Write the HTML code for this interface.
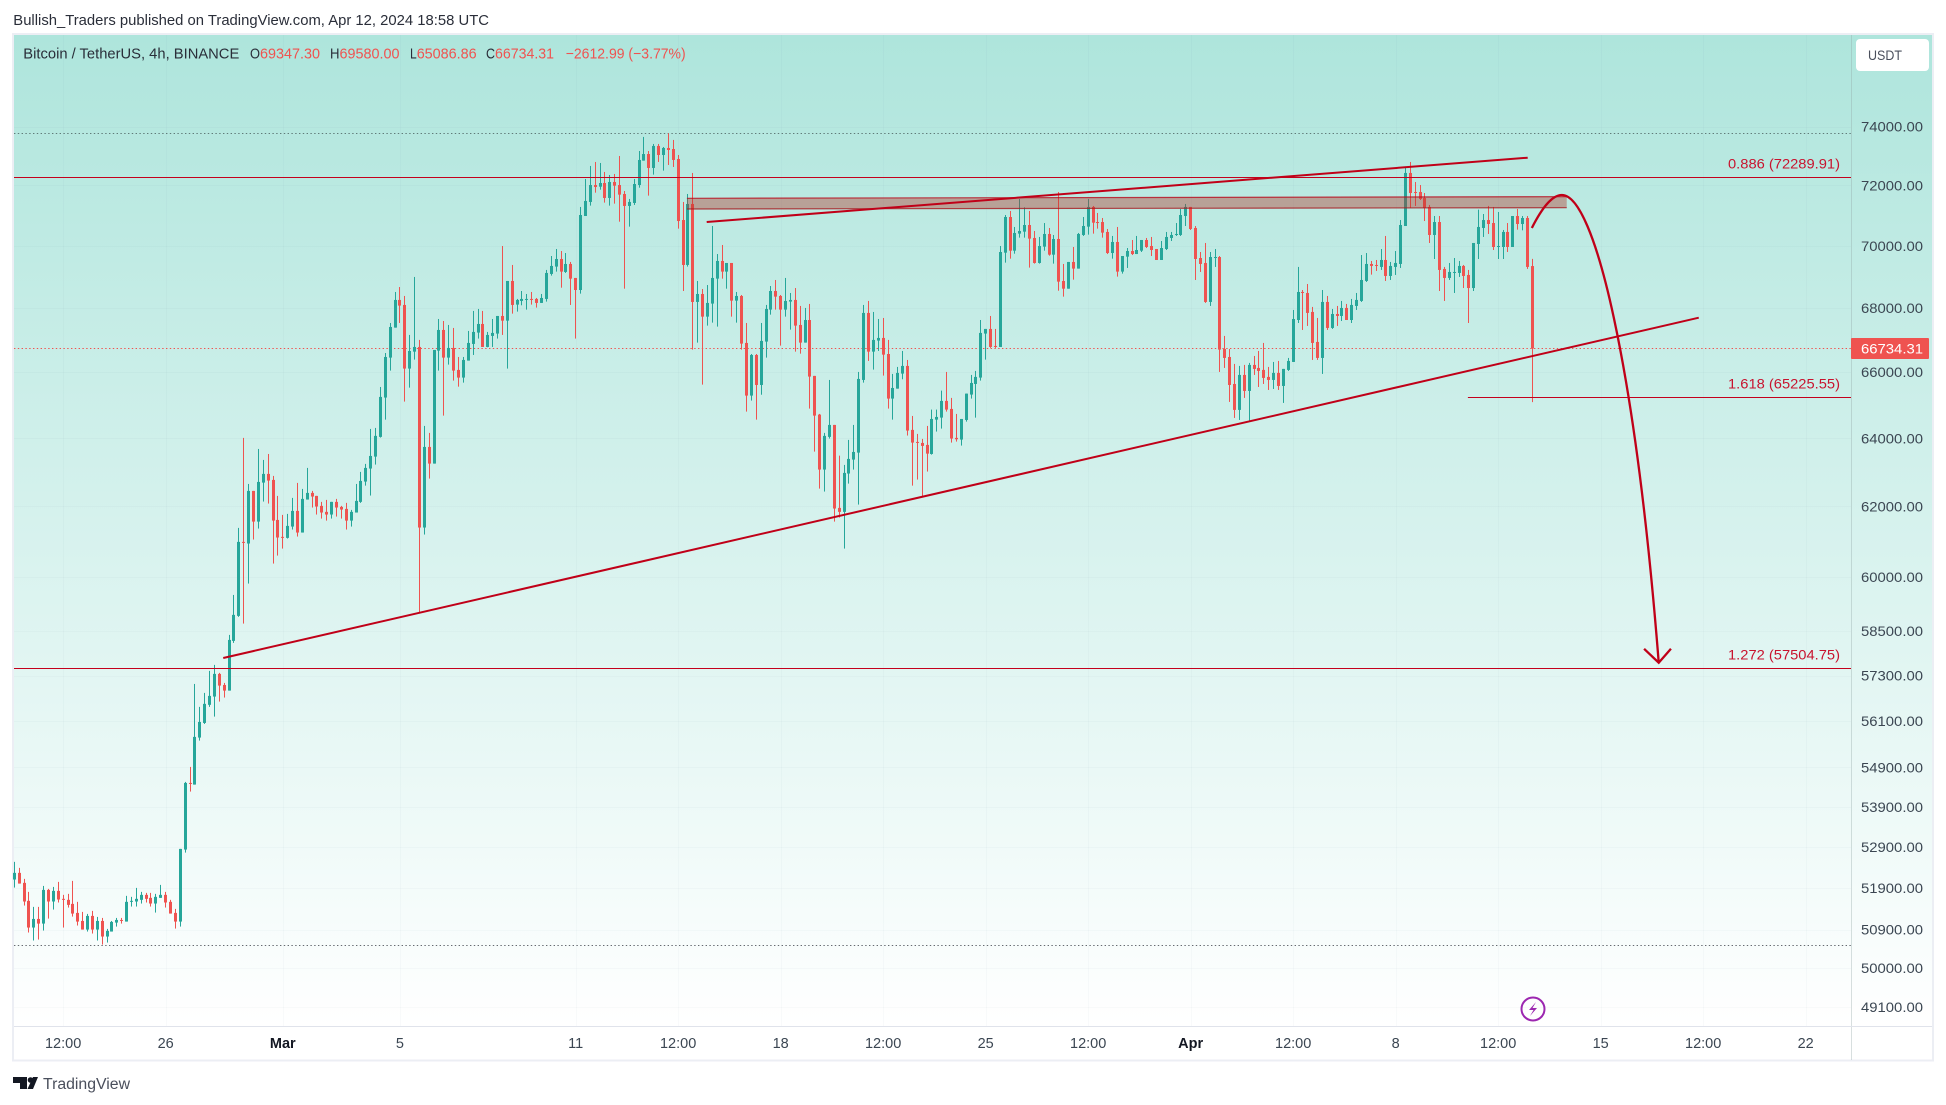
<!DOCTYPE html>
<html lang="en">
<head>
<meta charset="utf-8">
<title>Bitcoin / TetherUS 4h chart</title>
<style>
html,body{margin:0;padding:0;background:#fff;width:1946px;height:1105px;overflow:hidden}
svg{display:block}
text{font-family:"Liberation Sans",sans-serif}
</style>
</head>
<body>
<svg id="chart" xmlns="http://www.w3.org/2000/svg" width="1946" height="1105" viewBox="0 0 1946 1105">
  <defs>
    <linearGradient id="bg" x1="0" y1="0" x2="0" y2="1">
      <stop offset="0" stop-color="#aee5dc"/>
      <stop offset="1" stop-color="#ffffff"/>
    </linearGradient>
  </defs>
  <rect x="0" y="0" width="1946" height="1105" fill="#ffffff"/>
  <text x="13.3" y="25" font-size="15" fill="#2a2e39" textLength="475.7" lengthAdjust="spacingAndGlyphs">Bullish_Traders published on TradingView.com, Apr 12, 2024 18:58 UTC</text>
  <rect x="13" y="34" width="1920" height="1026.5" fill="#ffffff" stroke="#eceef4" stroke-width="2"/>
  <rect x="14" y="35" width="1918" height="991" fill="url(#bg)"/>
  <g id="grid"></g>
  <line x1="1851.5" y1="35" x2="1851.5" y2="1060" stroke="#8fa3a3" stroke-opacity="0.35" stroke-width="1"/>
  <line x1="14" y1="1026.5" x2="1932" y2="1026.5" stroke="#e0e3eb" stroke-width="1"/>
  <g id="levels"></g>
  <g id="candles"></g>
  <g id="drawings"></g>
  <g id="yaxis"></g>
  <g id="xaxis"></g>

  <g font-size="15" fill="#2a2e39">
    <text x="23.3" y="58.5" textLength="216" lengthAdjust="spacingAndGlyphs">Bitcoin / TetherUS, 4h, BINANCE</text>
    <text x="250" y="58.5" textLength="10" lengthAdjust="spacingAndGlyphs">O</text>
    <text x="260" y="58.5" fill="#ef5350" textLength="60" lengthAdjust="spacingAndGlyphs">69347.30</text>
    <text x="330" y="58.5" textLength="9.5" lengthAdjust="spacingAndGlyphs">H</text>
    <text x="339.5" y="58.5" fill="#ef5350" textLength="60" lengthAdjust="spacingAndGlyphs">69580.00</text>
    <text x="410" y="58.5" textLength="6.7" lengthAdjust="spacingAndGlyphs">L</text>
    <text x="416.7" y="58.5" fill="#ef5350" textLength="60" lengthAdjust="spacingAndGlyphs">65086.86</text>
    <text x="486" y="58.5" textLength="9" lengthAdjust="spacingAndGlyphs">C</text>
    <text x="495" y="58.5" fill="#ef5350" textLength="59" lengthAdjust="spacingAndGlyphs">66734.31</text>
    <text x="565.7" y="58.5" fill="#ef5350" textLength="120" lengthAdjust="spacingAndGlyphs">−2612.99 (−3.77%)</text>
  </g>

  <g>
    <rect x="1856" y="39" width="73" height="32" rx="4" fill="#ffffff"/>
    <text x="1868" y="60" font-size="14" fill="#4a4f5c" textLength="34" lengthAdjust="spacingAndGlyphs">USDT</text>
  </g>

  <g>
    <circle cx="1533" cy="1009" r="11.5" fill="none" stroke="#9c27b0" stroke-width="2"/>
    <path d="M1536 1002 L1529 1010 L1533.5 1010 L1530 1016 L1537 1008 L1532.5 1008 Z" fill="#9c27b0"/>
  </g>

  <g>
    <path d="M13 1077 H27 V1089 H20 V1083 H13 Z" fill="#131722"/>
    <circle cx="30.5" cy="1080" r="2.8" fill="#131722"/>
    <path d="M33 1077 H38 L33 1089 H27.5 Z" fill="#131722"/>
    <text x="43" y="1089" font-size="15.5" fill="#4a4f5c" textLength="87" lengthAdjust="spacingAndGlyphs">TradingView</text>
  </g>
</svg>
<script>
const opens=[
52105,52267,52024,51590,50952,51157,51046,51854,51574,51830,
51638,51614,51517,51301,51109,50904,51229,50904,51109,50739,
50857,51070,51133,51094,51574,51574,51614,51734,51662,51525,
51662,51734,51566,51301,51094,52838,54504,54462,55668,56049,
56524,56742,57345,57050,56900,58233,58916,60983,60936,62449,
61562,62691,62946,62770,61610,61126,61097,61420,61870,61249,
62198,62391,62304,62015,61842,61765,62131,61986,61928,61591,
61823,62131,62721,63103,63455,64041,65225,66451,67386,68261,
68102,66112,66636,66782,61392,63742,63249,66667,67313,66451,
66751,66071,65835,66359,66876,67230,67501,66782,67126,67199,
67753,67605,68867,68113,68229,68271,68293,68293,68166,68293,
69093,69330,69576,69157,69415,68964,68578,70984,71450,72016,
71960,72084,71583,72118,72016,71716,71317,71416,72016,72839,
73064,72591,73339,73031,73270,73235,72895,70851,69383,71383,
68197,68451,67732,68145,68942,69512,69168,69447,68239,68388,
66907,65285,66533,65609,66949,67954,68546,68388,67954,68208,
68261,67470,66917,67626,65887,64710,63073,64041,64399,61957,
61842,62956,63367,63573,65763,67849,66636,66980,67063,66563,
65194,65497,65958,66194,64250,63891,63861,63802,63533,64558,
64619,65124,64881,64011,63961,64548,65316,65640,65835,67199,
67345,66813,66782,69781,70951,69846,70403,70468,70687,70261,
69447,69977,70392,69716,70228,68867,68620,69480,69265,70359,
70633,71284,70785,70785,70458,69770,70130,69168,69652,69835,
69737,69846,70195,69999,69901,69544,69901,70261,70359,70359,
70984,71284,70589,69608,69447,68197,69619,69640,66720,66471,
65640,64851,65917,65427,66225,66132,66071,65856,65763,65979,
65579,66071,66317,67626,68515,68483,67880,66938,66441,68197,
67376,67816,67753,68007,67626,68070,68229,68867,69415,69383,
69319,69544,69028,69319,69415,70654,72422,71783,71783,71583,
71284,70359,70785,69254,68964,69125,69125,69351,69060,68641,
70064,70589,70851,70752,69966,69966,70458,69966,70984,70720,
70918,69347.30];
const highs=[
52536,52389,52121,51806,51445,51445,51950,51878,51926,52048,
51734,51758,52072,51566,51325,51277,51349,51205,51181,50920,
51109,51181,51181,51710,51686,51902,51806,51782,51782,51758,
51975,51806,51614,51397,52854,54530,54912,57077,56470,56839,
57425,57586,57372,57104,58396,59494,61382,64011,62652,62449,
63682,63357,63533,62887,62304,61755,61784,62246,62682,62507,
63122,62449,62304,62131,62188,62131,62217,62015,62102,61899,
62652,63005,63240,64279,64309,65548,66594,67532,68515,68673,
68388,67157,68996,67001,64369,64160,66688,67658,67595,67470,
67376,66471,66471,67282,67912,67975,67912,67251,67658,67753,
69999,68867,69383,68293,68546,68451,68515,68324,68451,69222,
69673,69901,69835,69770,69480,68964,71284,72219,72659,72794,
72760,72456,72354,72388,72997,71816,71550,72219,73167,73648,
73167,73407,73407,73304,73773,73545,73031,71450,71716,72422,
68867,68610,68737,70654,69737,70032,69447,69447,68515,68419,
67532,66563,66563,67532,68102,68706,68899,68419,68964,68483,
68641,68070,68007,68134,65887,64730,64160,65763,64399,63484,
63210,63951,64399,66009,68102,68229,67880,67658,67690,67001,
65948,66163,66657,66379,64669,64130,63981,64369,64861,64861,
65437,66009,65215,64730,64578,65346,65917,66040,67626,67345,
67753,67345,69999,71017,71150,70622,71550,71272,71150,70490,
70294,70752,70589,70359,71783,69415,69480,69966,70425,70951,
71550,71317,71084,70918,70556,70327,70622,69673,69933,70195,
70327,70195,70261,70294,69901,70162,70458,70458,70752,71217,
71383,71284,70654,69803,70097,69803,69901,69673,67126,66720,
66256,66194,66225,66287,66502,66657,66907,66163,66317,66348,
66102,66441,67943,69319,68578,68770,68039,67690,68578,68388,
67975,68070,68229,68134,68293,68483,69705,69770,69512,69544,
69901,70327,69480,69835,70851,72625,72794,72118,72016,71749,
71350,70984,70984,69319,69447,69608,69512,69383,69222,70097,
71195,71050,71317,71284,71117,70523,70752,70984,71217,70984,
70984,69580.00];
const lows=[
51910,52007,51477,50834,50645,50668,50881,51165,51381,51550,
50952,51429,51213,51000,50904,50857,50810,50645,50550,50597,
50857,50975,51046,51094,51453,51453,51525,51550,51453,51309,
51662,51429,51285,50928,50975,52763,54285,54462,55590,56023,
56470,56215,56610,56716,56900,58179,58889,58705,59810,61050,
61363,62140,62082,60370,60595,60793,61078,61335,61135,61249,
62198,61967,61765,61649,61591,61649,61707,61649,61335,61420,
61823,62102,62603,62314,63220,64021,64558,66050,67386,67532,
65103,65528,66389,59008,61192,62809,63249,66050,64679,66235,
65743,65558,65681,66359,66533,67043,66782,66772,66782,67043,
67157,66112,67827,67891,68091,67954,68113,68018,68166,68208,
69039,69168,68652,69125,68102,67043,68462,70984,71328,71760,
71860,71428,71328,71394,70796,68620,70633,71350,71927,72839,
71661,72366,72794,72501,72692,72625,70567,68546,69330,66699,
66917,65620,67449,67543,67418,68942,68620,67732,67543,66699,
64800,65134,64558,65312,66451,67795,67954,66824,67732,67323,
66636,66574,66917,64891,63603,62516,62430,63991,61562,61678,
60793,62662,63073,62053,65681,66348,66081,66657,65897,64891,
64558,65497,65784,64081,62603,62780,62285,63015,63514,64200,
64289,64800,63871,63901,63782,64498,65194,64618,65743,66389,
66751,66751,66782,69458,69587,69748,70272,70272,69297,69426,
69426,69846,69684,69426,68555,68366,68620,68910,69265,70327,
70370,70403,70567,70272,69737,69587,69007,69103,69286,69705,
69737,69803,69933,69673,69544,69544,69868,70162,70327,70327,
70654,70523,68899,69157,68166,68070,69319,66009,66132,65093,
64609,64548,65215,64488,65917,65548,65640,65457,65487,65457,
65063,66040,66317,67532,67313,67439,66379,66379,65948,67313,
67345,67439,67595,67626,67532,67943,68197,68835,69071,69189,
69222,68867,68899,69060,69286,70654,71250,71317,71516,70818,
70097,69576,68546,68229,68899,68483,68996,68641,67532,68546,
69576,70294,70392,69868,69576,69576,69803,69966,70534,70512,
69254,65086.86];
const closes=[
52267,52007,51574,50952,51157,51046,51854,51574,51830,51622,
51622,51493,51285,51094,50904,51229,50904,51109,50739,50873,
51086,51133,51117,51566,51590,51638,51734,51638,51525,51686,
51734,51550,51285,51094,52854,54504,54487,55686,56075,56550,
56760,57345,57033,56900,58260,58944,60983,60964,62449,61562,
62711,62946,62750,61591,61107,61107,61439,61870,61249,62217,
62391,62285,61996,61823,61765,62131,61967,61909,61591,61842,
62159,62740,63122,63475,64071,65245,66471,67407,68261,68081,
66112,66657,66782,61392,63742,63249,66688,67313,66451,66751,
66050,65835,66379,66907,67251,67501,66782,67157,67220,67753,
67605,68867,68102,68261,68293,68293,68271,68166,68324,69125,
69351,69576,69168,69415,68942,68578,71017,71483,72016,71949,
72084,71583,72118,71994,71694,71317,71450,72050,72862,73064,
72591,73339,73031,73270,73201,72862,70818,69383,71383,68197,
68451,67732,68166,68964,69512,69168,69447,68239,68388,66886,
65285,66533,65609,66970,67975,68546,68366,67954,68229,68261,
67449,66917,67626,65866,64679,63073,64071,64399,61938,61842,
62975,63387,63593,65794,67849,66636,67001,67063,66543,65194,
65518,65979,66194,64230,63871,63871,63772,63543,64578,64639,
65124,64861,63991,63971,64578,65346,65671,65856,67220,67345,
66782,66782,69803,70951,69846,70425,70490,70687,70239,69447,
69999,70392,69716,70228,68846,68620,69480,69265,70392,70654,
71284,70763,70752,70436,69770,70130,69168,69673,69835,69737,
69868,70195,69966,69868,69544,69933,70294,70359,70392,71017,
71284,70556,69576,69415,68197,69640,69640,66699,66441,65609,
64851,65917,65427,66225,66102,66040,65825,65763,65979,65579,
66102,66348,67658,68515,68483,67849,66907,66441,68197,67376,
67816,67753,68007,67626,68102,68261,68899,69415,69351,69351,
69544,69028,69351,69447,70687,72422,71749,71749,71550,71250,
70359,70785,69222,68964,69157,69157,69351,69028,68641,70097,
70622,70851,70720,69966,69999,70458,69966,70984,70720,70918,
69319,66734.31];

const priceTicks=[74000,72000,70000,68000,66000,64000,62000,60000,58500,57300,56100,54900,53900,52900,51900,50900,50000,49100];
const timeLabels=['12:00','26','Mar','5','11','12:00','18','12:00','25','12:00','Apr','12:00','8','12:00','15','12:00','22'];
const timeBars=[10,31,55,79,115,136,157,178,199,220,241,262,283,304,325,346,367];
const boldTimeLabels=['Mar','Apr'];

const fibPrices=[72289.91,65225.55,57504.75];
const fibNames=['0.886','1.618','1.272'];
const fibStartBars=[-1,297.8,-1];

const lowerTrendBars=[42.8,345.1];
const lowerTrendPrices=[57771,67698];
const upperTrendBars=[141.85,310.05];
const upperTrendPrices=[70785,72939];
const zoneBars=[137.8,318.05];
const zoneTopPrices=[71572,71625];
const zoneBottomPrices=[71216,71259];
const curveBars=[310.9,312.98,315.0,317.05,323.8,332.1,336.9];
const curvePrices=[70589,71249,71682,71682,71682,66160,57644];
const arrowBars=[333.9,336.9,339.4];
const arrowPrices=[58020,57644,58020];

const NS='http://www.w3.org/2000/svg';
const X0=14.33, BAR=4.881, Y0=126.7, PXPERLOG=2146, P0=74000;
const PLOT_LEFT=14, PLOT_RIGHT=1851, PLOT_TOP=35, PLOT_BOTTOM=1026;
const UP='#26a69a', DOWN='#ef5350', DRAW='#c00018';
function xScale(i){return X0+BAR*i;}
function yScale(p){return Y0+PXPERLOG*Math.log(P0/p);}
function mk(tag,attrs,parent,txt){
  const e=document.createElementNS(NS,tag);
  for(const k in attrs)e.setAttribute(k,attrs[k]);
  if(txt!==undefined)e.textContent=txt;
  parent.appendChild(e);
  return e;
}
const gridG=document.getElementById('grid');
const levelsG=document.getElementById('levels');
const candlesG=document.getElementById('candles');
const drawG=document.getElementById('drawings');
const yG=document.getElementById('yaxis');
const xG=document.getElementById('xaxis');

priceTicks.forEach(function(p){
  const y=Math.round(yScale(p))+0.5;
  const ln=mk('line',{x1:PLOT_LEFT,x2:PLOT_RIGHT,y1:y,y2:y,stroke:'#5a7a80','stroke-opacity':0.035},gridG);
  
  
  const t=mk('text',{x:1861,y:yScale(p)+5,'font-size':14,fill:'#3b4652',textLength:62,lengthAdjust:'spacingAndGlyphs'},yG,p.toFixed(2));
  
  
});
timeBars.forEach(function(b,k){
  const x=Math.round(xScale(b))+0.5;
  const ln=mk('line',{x1:x,x2:x,y1:PLOT_TOP,y2:PLOT_BOTTOM,stroke:'#5a7a80','stroke-opacity':0.035},gridG);
  
  
  const bold=boldTimeLabels.indexOf(timeLabels[k])>=0;
  const t=mk('text',{x:xScale(b),y:1048,'font-size':14.5,'text-anchor':'middle',fill:bold?'#131722':'#3b4652','font-weight':bold?'bold':'normal'},xG,timeLabels[k]);
  
  
});

function dotted(price,color,name){
  const y=Math.round(yScale(price))+0.5;
  const ln=mk('line',{x1:PLOT_LEFT,x2:PLOT_RIGHT,y1:y,y2:y,stroke:color,'stroke-width':1,'stroke-dasharray':'1.4 2.4'},levelsG);
  
  
}
dotted(Math.max.apply(null,highs),'#5f7a78','visible-high-line');
dotted(closes[closes.length-1],DOWN,'last-price-line');
dotted(Math.min.apply(null,lows),'#666a70','visible-low-line');

opens.forEach(function(o,i){
  const c=closes[i], col=c>=o?UP:DOWN, xc=xScale(i);
  const g=mk('g',{},candlesG);
  
  
  const yH=yScale(highs[i]), yL=yScale(lows[i]);
  const w=mk('rect',{x:Math.round(xc-0.5),y:yH,width:1,height:Math.max(yL-yH,1),fill:col},g);
  
  
  const yT=yScale(Math.max(o,c)), yB=yScale(Math.min(o,c));
  const b=mk('rect',{x:Math.round(xc-1.5),y:yT,width:3,height:Math.max(yB-yT,1),fill:col},g);
  
  
});

const zone=mk('polygon',{points:[
  xScale(zoneBars[0])+','+yScale(zoneTopPrices[0]),
  xScale(zoneBars[1])+','+yScale(zoneTopPrices[1]),
  xScale(zoneBars[1])+','+yScale(zoneBottomPrices[1]),
  xScale(zoneBars[0])+','+yScale(zoneBottomPrices[0])].join(' '),
  fill:'#b23427','fill-opacity':0.4},drawG);


const zoneTop=mk('line',{x1:xScale(zoneBars[0]),y1:yScale(zoneTopPrices[0]),x2:xScale(zoneBars[1]),y2:yScale(zoneTopPrices[1]),stroke:'#b80a1c','stroke-width':1.2,'stroke-opacity':0.8},drawG);


const zoneBottom=mk('line',{x1:xScale(zoneBars[0]),y1:yScale(zoneBottomPrices[0]),x2:xScale(zoneBars[1]),y2:yScale(zoneBottomPrices[1]),stroke:'#a81a20','stroke-width':1.2,'stroke-opacity':0.8},drawG);



fibPrices.forEach(function(p,k){
  const y=Math.floor(yScale(p)+0.3)+0.5;
  const x1=fibStartBars[k]<0?PLOT_LEFT:xScale(fibStartBars[k]);
  const ln=mk('line',{x1:x1,x2:PLOT_RIGHT,y1:y,y2:y,stroke:'#c4001c','stroke-width':1},drawG);
  
  
  const t=mk('text',{x:1840,y:y-9,'font-size':14,'text-anchor':'end',fill:'#c8132e',textLength:112,lengthAdjust:'spacingAndGlyphs'},drawG,fibNames[k]+' ('+p.toFixed(2)+')');
  
  
});

const lowerTrend=mk('line',{x1:xScale(lowerTrendBars[0]),y1:yScale(lowerTrendPrices[0]),x2:xScale(lowerTrendBars[1]),y2:yScale(lowerTrendPrices[1]),stroke:DRAW,'stroke-width':2},drawG);


const upperTrend=mk('line',{x1:xScale(upperTrendBars[0]),y1:yScale(upperTrendPrices[0]),x2:xScale(upperTrendBars[1]),y2:yScale(upperTrendPrices[1]),stroke:DRAW,'stroke-width':2},drawG);



const cp=curveBars.map(function(b,k){return xScale(b)+' '+yScale(curvePrices[k]);});
const curve=mk('path',{d:'M'+cp[0]+' C'+cp[1]+' '+cp[2]+' '+cp[3]+' C'+cp[4]+' '+cp[5]+' '+cp[6],fill:'none',stroke:DRAW,'stroke-width':2.3},drawG);


const head=mk('polyline',{points:arrowBars.map(function(b,k){return xScale(b)+','+yScale(arrowPrices[k]);}).join(' '),fill:'none',stroke:DRAW,'stroke-width':2.3},drawG);



const lastClose=closes[closes.length-1];
const lastY=yScale(lastClose);
const tag=mk('rect',{x:1851,y:lastY-10.5,width:78,height:21,rx:1,fill:DOWN},yG);


const tagText=mk('text',{x:1861,y:lastY+5,'font-size':14,fill:'#ffffff',textLength:62,lengthAdjust:'spacingAndGlyphs'},yG,lastClose.toFixed(2));


</script>
</body>
</html>
